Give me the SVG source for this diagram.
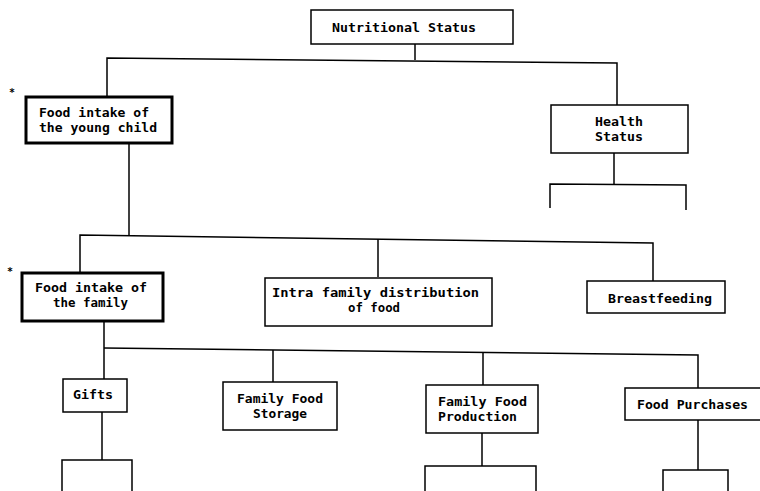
<svg xmlns="http://www.w3.org/2000/svg" width="760" height="491" viewBox="0 0 760 491">
<style>
.box{fill:#fff;stroke:#000;stroke-width:1.5}
.thick{fill:#fff;stroke:#000;stroke-width:3}
.ln{fill:none;stroke:#000;stroke-width:1.5}
text{font-family:"DejaVu Sans Mono","Liberation Mono",monospace;font-weight:bold;font-size:13px;fill:#000}
.ast{font-size:10px}
</style>
<rect width="760" height="491" fill="#fff"/>
<g id="connectors">
<polyline class="ln" points="415,44 415,60"/>
<polyline class="ln" points="107,97 107,58 617,63 617,105"/>
<polyline class="ln" points="614,153 614,184"/>
<polyline class="ln" points="550,208 550,184 686,185 686,210"/>
<polyline class="ln" points="129,143 129,236"/>
<polyline class="ln" points="80,273 80,235 653,243 653,281"/>
<polyline class="ln" points="378,239 378,277"/>
<polyline class="ln" points="104,321 104,379"/>
<polyline class="ln" points="104,348 698,355 698,388"/>
<polyline class="ln" points="273,350 273,382"/>
<polyline class="ln" points="483,353 483,385"/>
<polyline class="ln" points="102,412 102,460"/>
<polyline class="ln" points="62,491 62,460 132,460 132,491"/>
<polyline class="ln" points="482,433 482,466"/>
<polyline class="ln" points="425,491 425,466 536,466 536,491"/>
<polyline class="ln" points="698,420 698,470"/>
<polyline class="ln" points="663,491 663,470 728,470 728,491"/>
</g>
<g id="nutritional-status">
<rect class="box" x="311" y="10" width="202" height="34"/>
<text x="332" y="32" textLength="144" lengthAdjust="spacingAndGlyphs">Nutritional Status</text>
</g>
<g id="food-intake-child">
<rect class="thick" x="26" y="97" width="146" height="46"/>
<text x="39" y="117" textLength="110" lengthAdjust="spacingAndGlyphs">Food intake of</text>
<text x="39" y="132" textLength="118" lengthAdjust="spacingAndGlyphs">the young child</text>
<text class="ast" x="9" y="96">*</text>
</g>
<g id="health-status">
<rect class="box" x="551" y="105" width="137" height="48"/>
<text x="595" y="126" textLength="48" lengthAdjust="spacingAndGlyphs">Health</text>
<text x="595" y="141" textLength="48" lengthAdjust="spacingAndGlyphs">Status</text>
</g>
<g id="food-intake-family">
<rect class="thick" x="22" y="273" width="141" height="48"/>
<text x="35" y="292" textLength="112" lengthAdjust="spacingAndGlyphs">Food intake of</text>
<text x="53" y="307" textLength="75" lengthAdjust="spacingAndGlyphs">the family</text>
<text class="ast" x="7" y="275">*</text>
</g>
<g id="intra-family">
<rect class="box" x="265" y="278" width="227" height="48"/>
<text x="272" y="297" textLength="207" lengthAdjust="spacingAndGlyphs">Intra family distribution</text>
<text x="348" y="312" textLength="52" lengthAdjust="spacingAndGlyphs">of food</text>
</g>
<g id="breastfeeding">
<rect class="box" x="587" y="281" width="138" height="32"/>
<text x="608" y="303" textLength="104" lengthAdjust="spacingAndGlyphs">Breastfeeding</text>
</g>
<g id="gifts">
<rect class="box" x="63" y="379" width="64" height="33"/>
<text x="73" y="399" textLength="40" lengthAdjust="spacingAndGlyphs">Gifts</text>
</g>
<g id="family-food-storage">
<rect class="box" x="223" y="382" width="114" height="48"/>
<text x="237" y="403" textLength="86" lengthAdjust="spacingAndGlyphs">Family Food</text>
<text x="253" y="418" textLength="54" lengthAdjust="spacingAndGlyphs">Storage</text>
</g>
<g id="family-food-production">
<rect class="box" x="426" y="385" width="112" height="48"/>
<text x="438" y="406" textLength="89" lengthAdjust="spacingAndGlyphs">Family Food</text>
<text x="438" y="421" textLength="79" lengthAdjust="spacingAndGlyphs">Production</text>
</g>
<g id="food-purchases">
<rect class="box" x="625" y="388" width="140" height="32"/>
<text x="637" y="409" textLength="111" lengthAdjust="spacingAndGlyphs">Food Purchases</text>
</g>
</svg>
